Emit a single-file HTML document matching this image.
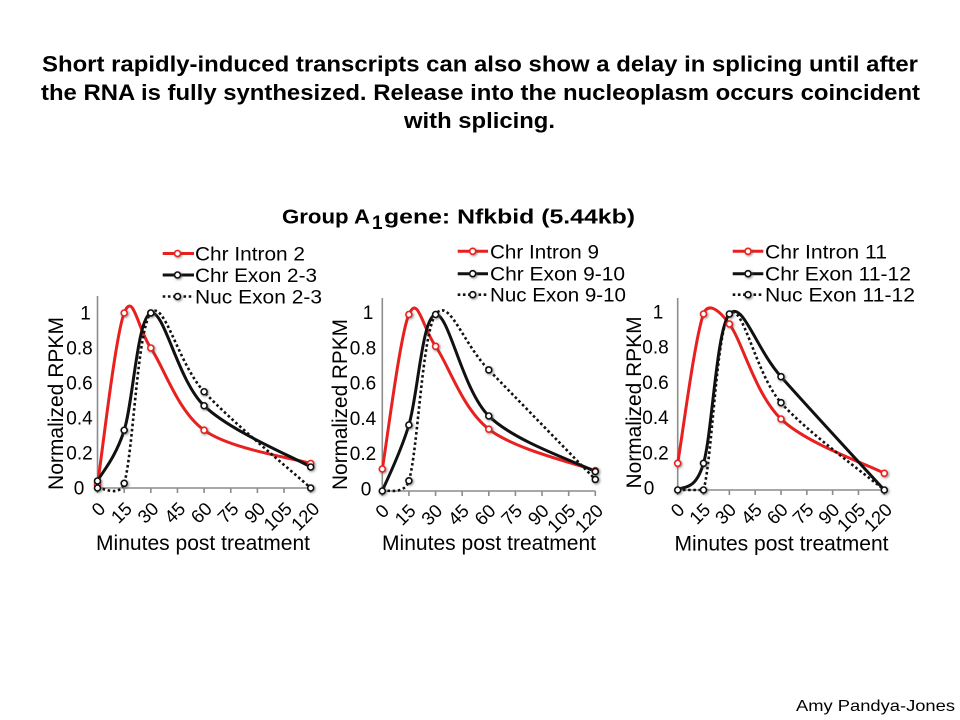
<!DOCTYPE html>
<html>
<head>
<meta charset="utf-8">
<style>
html,body{margin:0;padding:0;background:#fff;}
svg{display:block;}
text{font-family:"Liberation Sans",Arial,sans-serif;fill:#000;}
.b{font-weight:bold;}
.ax{stroke:#8c8c8c;stroke-width:1.6;fill:none;}
.red{stroke:#e8201f;stroke-width:3;fill:none;stroke-linejoin:round;}
.blk{stroke:#111;stroke-width:3;fill:none;stroke-linejoin:round;}
.dot{stroke:#111;stroke-width:2.6;fill:none;stroke-dasharray:2.6 2.6;}
.mr{fill:#fff;stroke:#e8201f;stroke-width:1.6;}
.mk{fill:#fff;stroke:#111;stroke-width:1.6;}
.yt{font-size:19px;text-anchor:middle;}
.xt{font-size:18.5px;text-anchor:end;}
.lg{font-size:19px;}
.at{font-size:21px;}
</style>
</head>
<body>
<svg width="960" height="720" viewBox="0 0 960 720" xmlns="http://www.w3.org/2000/svg">
<defs>
<filter id="sh" x="-50%" y="-50%" width="200%" height="200%">
<feDropShadow dx="1" dy="1" stdDeviation="1.3" flood-color="#555" flood-opacity="0.7"/>
</filter>
</defs>
<rect width="960" height="720" fill="#fff"/>

<!-- Main title -->
<text class="b" x="42" y="71.5" font-size="22" textLength="876" lengthAdjust="spacingAndGlyphs">Short rapidly-induced transcripts can also show a delay in splicing until after</text>
<text class="b" x="41" y="100" font-size="22" textLength="879" lengthAdjust="spacingAndGlyphs">the RNA is fully synthesized. Release into the nucleoplasm occurs coincident</text>
<text class="b" x="404" y="128" font-size="22" textLength="151" lengthAdjust="spacingAndGlyphs">with splicing.</text>

<!-- Group title -->
<text class="b" x="282" y="223.3" font-size="20" textLength="88" lengthAdjust="spacingAndGlyphs">Group A</text>
<text class="b" x="372" y="229" font-size="19">1</text>
<text class="b" x="384" y="223.3" font-size="20" textLength="251" lengthAdjust="spacingAndGlyphs">gene: Nfkbid (5.44kb)</text>

<!-- ================= CHART 1 ================= -->
<g>
<line class="ax" x1="97.5" y1="296" x2="97.5" y2="488"/>
<line class="ax" x1="97.5" y1="488" x2="310.7" y2="488"/>
<path class="ax" d="M97.5,488v5M124.15,488v5M150.8,488v5M177.45,488v5M204.1,488v5M230.75,488v5M257.4,488v5M284.05,488v5M310.7,488v5"/>
<text class="yt" x="79" y="494.5">0</text>
<text class="yt" x="79.5" y="459.5">0.2</text>
<text class="yt" x="79.5" y="424.5">0.4</text>
<text class="yt" x="79.5" y="389.5">0.6</text>
<text class="yt" x="79.5" y="354.5">0.8</text>
<text class="yt" x="85.5" y="319.5">1</text>
<text class="xt" transform="translate(106.5,510) rotate(-45)">0</text>
<text class="xt" transform="translate(133.2,510) rotate(-45)">15</text>
<text class="xt" transform="translate(159.8,510) rotate(-45)">30</text>
<text class="xt" transform="translate(186.5,510) rotate(-45)">45</text>
<text class="xt" transform="translate(213.1,510) rotate(-45)">60</text>
<text class="xt" transform="translate(239.8,510) rotate(-45)">75</text>
<text class="xt" transform="translate(266.4,510) rotate(-45)">90</text>
<text class="xt" transform="translate(293.1,510) rotate(-45)">105</text>
<text class="xt" transform="translate(320.7,510) rotate(-45)">120</text>
<text class="at" x="96" y="550" textLength="214" lengthAdjust="spacingAndGlyphs">Minutes post treatment</text>
<text class="at" transform="translate(63,490) rotate(-90)" textLength="173" lengthAdjust="spacingAndGlyphs">Normalized RPKM</text>

<path class="red" d="M97.5,484.5 C101.95,455.92 115.32,335.75 124.2,313 C133.08,290.25 137.48,328.47 150.8,348 C164.12,367.53 177.45,410.95 204.1,430.2 C230.75,449.45 292.93,457.95 310.7,463.5"/>
<path class="blk" d="M97.5,481 C101.95,472.54 115.32,458.25 124.2,430.25 C133.08,402.25 137.48,317.08 150.8,313 C164.12,308.92 177.45,380.08 204.1,405.75 C230.75,431.42 292.93,456.79 310.7,467"/>
<path class="dot" d="M97.5,488 C101.95,487.22 119.76,497.88 124.2,483.3 C133.08,454.13 137.48,328.26 150.8,313 C164.12,297.74 177.45,362.58 204.1,391.75 C230.75,420.92 292.93,471.96 310.7,488"/>
<g filter="url(#sh)">
<circle class="mr" cx="97.5" cy="484.5" r="3"/><circle class="mr" cx="124.2" cy="313" r="3"/><circle class="mr" cx="150.8" cy="348" r="3"/><circle class="mr" cx="204.1" cy="430.2" r="3"/><circle class="mr" cx="310.7" cy="463.5" r="3"/>
<circle class="mk" cx="97.5" cy="481" r="3"/><circle class="mk" cx="124.2" cy="430.25" r="3"/><circle class="mk" cx="150.8" cy="313" r="3"/><circle class="mk" cx="204.1" cy="405.75" r="3"/><circle class="mk" cx="310.7" cy="467" r="3"/>
<circle class="mk" cx="97.5" cy="488" r="3"/><circle class="mk" cx="124.2" cy="483.3" r="3"/><circle class="mk" cx="150.8" cy="313" r="3"/><circle class="mk" cx="204.1" cy="391.75" r="3"/><circle class="mk" cx="310.7" cy="488" r="3"/>
</g>
<!-- legend -->
<line class="red" x1="162.7" y1="253.5" x2="194" y2="253.5"/>
<line class="blk" x1="162.7" y1="275" x2="194" y2="275"/>
<line class="dot" x1="162.7" y1="296.5" x2="194" y2="296.5"/>
<g filter="url(#sh)">
<circle class="mr" cx="177.5" cy="253.5" r="3"/><circle class="mk" cx="177.5" cy="275" r="3"/><circle class="mk" cx="177.5" cy="296.5" r="3"/>
</g>
<text class="lg" x="195" y="260.5" textLength="110" lengthAdjust="spacingAndGlyphs">Chr Intron 2</text>
<text class="lg" x="195" y="282" textLength="122" lengthAdjust="spacingAndGlyphs">Chr Exon 2-3</text>
<text class="lg" x="195" y="303.5" textLength="127" lengthAdjust="spacingAndGlyphs">Nuc Exon 2-3</text>
</g>

<!-- ================= CHART 2 ================= -->
<g>
<line class="ax" x1="382.3" y1="298" x2="382.3" y2="491"/>
<line class="ax" x1="382.3" y1="491" x2="595.3" y2="491"/>
<path class="ax" d="M382.3,491v5M408.92,491v5M435.55,491v5M462.17,491v5M488.8,491v5M515.42,491v5M542.05,491v5M568.67,491v5M595.3,491v5"/>
<text class="yt" x="366" y="495.5">0</text>
<text class="yt" x="363" y="460.2">0.2</text>
<text class="yt" x="363" y="424.9">0.4</text>
<text class="yt" x="363" y="389.6">0.6</text>
<text class="yt" x="363" y="354.3">0.8</text>
<text class="yt" x="368" y="319">1</text>
<text class="xt" transform="translate(390.3,512) rotate(-45)">0</text>
<text class="xt" transform="translate(416.9,512) rotate(-45)">15</text>
<text class="xt" transform="translate(443.5,512) rotate(-45)">30</text>
<text class="xt" transform="translate(470.2,512) rotate(-45)">45</text>
<text class="xt" transform="translate(496.8,512) rotate(-45)">60</text>
<text class="xt" transform="translate(523.4,512) rotate(-45)">75</text>
<text class="xt" transform="translate(550,512) rotate(-45)">90</text>
<text class="xt" transform="translate(576.7,512) rotate(-45)">105</text>
<text class="xt" transform="translate(604.3,512) rotate(-45)">120</text>
<text class="at" x="382" y="550" textLength="214" lengthAdjust="spacingAndGlyphs">Minutes post treatment</text>
<text class="at" transform="translate(347,490) rotate(-90)" textLength="171" lengthAdjust="spacingAndGlyphs">Normalized RPKM</text>

<path class="red" d="M382.3,469 C386.73,443.25 400.02,334.95 408.9,314.5 C417.78,294.05 422.28,327.18 435.6,346.3 C448.92,365.42 462.18,408.47 488.8,429.2 C515.42,449.93 577.55,463.78 595.3,470.7"/>
<path class="blk" d="M382.3,491 C386.73,480 400.02,454.42 408.9,425 C417.78,395.58 422.28,316 435.6,314.5 C448.92,313 462.18,389.82 488.8,416 C515.42,442.18 577.55,462.33 595.3,471.6"/>
<path class="dot" d="M382.3,491 C386.73,489.3 404.46,495.51 408.9,480.8 C417.78,451.38 422.28,332.98 435.6,314.5 C448.92,296.02 462.18,342.42 488.8,369.9 C515.42,397.38 577.55,461.15 595.3,479.4"/>
<g filter="url(#sh)">
<circle class="mr" cx="382.3" cy="469" r="3"/><circle class="mr" cx="408.9" cy="314.5" r="3"/><circle class="mr" cx="435.6" cy="346.3" r="3"/><circle class="mr" cx="488.8" cy="429.2" r="3"/><circle class="mr" cx="595.3" cy="470.7" r="3"/>
<circle class="mk" cx="382.3" cy="491" r="3"/><circle class="mk" cx="408.9" cy="425" r="3"/><circle class="mk" cx="435.6" cy="314.5" r="3"/><circle class="mk" cx="488.8" cy="416" r="3"/><circle class="mk" cx="595.3" cy="471.6" r="3"/>
<circle class="mk" cx="408.9" cy="480.8" r="3"/><circle class="mk" cx="488.8" cy="369.9" r="3"/><circle class="mk" cx="595.3" cy="479.4" r="3"/>
</g>
<!-- legend -->
<line class="red" x1="457.7" y1="251.3" x2="488" y2="251.3"/>
<line class="blk" x1="457.7" y1="273.7" x2="488" y2="273.7"/>
<line class="dot" x1="457.7" y1="294.7" x2="488" y2="294.7"/>
<g filter="url(#sh)">
<circle class="mr" cx="472.7" cy="251.3" r="3"/><circle class="mk" cx="472.7" cy="273.7" r="3"/><circle class="mk" cx="472.7" cy="294.7" r="3"/>
</g>
<text class="lg" x="490" y="258.3" textLength="109" lengthAdjust="spacingAndGlyphs">Chr Intron 9</text>
<text class="lg" x="490" y="280.7" textLength="135" lengthAdjust="spacingAndGlyphs">Chr Exon 9-10</text>
<text class="lg" x="490" y="301.7" textLength="136" lengthAdjust="spacingAndGlyphs">Nuc Exon 9-10</text>
</g>

<!-- ================= CHART 3 ================= -->
<g>
<line class="ax" x1="677.7" y1="298" x2="677.7" y2="490"/>
<line class="ax" x1="677.7" y1="490" x2="884.3" y2="490"/>
<path class="ax" d="M677.7,490v5M703.52,490v5M729.35,490v5M755.17,490v5M781,490v5M806.82,490v5M832.65,490v5M858.47,490v5M884.3,490v5"/>
<text class="yt" x="649" y="494.5">0</text>
<text class="yt" x="655.5" y="459.3">0.2</text>
<text class="yt" x="655.5" y="424.1">0.4</text>
<text class="yt" x="655.5" y="388.9">0.6</text>
<text class="yt" x="655.5" y="353.7">0.8</text>
<text class="yt" x="658" y="318.5">1</text>
<text class="xt" transform="translate(685.7,511) rotate(-45)">0</text>
<text class="xt" transform="translate(711.5,511) rotate(-45)">15</text>
<text class="xt" transform="translate(737.3,511) rotate(-45)">30</text>
<text class="xt" transform="translate(763.2,511) rotate(-45)">45</text>
<text class="xt" transform="translate(789,511) rotate(-45)">60</text>
<text class="xt" transform="translate(814.8,511) rotate(-45)">75</text>
<text class="xt" transform="translate(840.6,511) rotate(-45)">90</text>
<text class="xt" transform="translate(866.5,511) rotate(-45)">105</text>
<text class="xt" transform="translate(893.3,511) rotate(-45)">120</text>
<text class="at" x="674.5" y="550.7" textLength="214" lengthAdjust="spacingAndGlyphs">Minutes post treatment</text>
<text class="at" transform="translate(641,488.5) rotate(-90)" textLength="172" lengthAdjust="spacingAndGlyphs">Normalized RPKM</text>

<path class="red" d="M677.7,463.3 C682,438.42 694.88,337.22 703.5,314 C707.4,303.55 716.48,306.5 729.4,324 C742.32,341.5 755.18,394.12 781,419 C806.82,443.88 867.08,464.25 884.3,473.3"/>
<path class="blk" d="M677.7,490 C682,485.55 694.88,492.63 703.5,463.3 C712.12,433.97 716.48,328.43 729.4,314 C742.32,299.57 755.18,347.37 781,376.7 C806.82,406.03 867.08,471.12 884.3,490"/>
<path class="dot" d="M677.7,490 L703.5,490 C712.12,460.67 716.48,328.55 729.4,314 C742.32,299.45 755.18,373.37 781,402.7 C806.82,432.03 867.08,475.45 884.3,490"/>
<g filter="url(#sh)">
<circle class="mr" cx="677.7" cy="463.3" r="3"/><circle class="mr" cx="703.5" cy="314" r="3"/><circle class="mr" cx="729.4" cy="324" r="3"/><circle class="mr" cx="781" cy="419" r="3"/><circle class="mr" cx="884.3" cy="473.3" r="3"/>
<circle class="mk" cx="677.7" cy="490" r="3"/><circle class="mk" cx="703.5" cy="463.3" r="3"/><circle class="mk" cx="729.4" cy="314" r="3"/><circle class="mk" cx="781" cy="376.7" r="3"/><circle class="mk" cx="884.3" cy="490" r="3"/>
<circle class="mk" cx="703.5" cy="490" r="3"/><circle class="mk" cx="781" cy="402.7" r="3"/>
</g>
<!-- legend -->
<line class="red" x1="732.7" y1="251.3" x2="763.3" y2="251.3"/>
<line class="blk" x1="732.7" y1="273.7" x2="763.3" y2="273.7"/>
<line class="dot" x1="732.7" y1="294.7" x2="763.3" y2="294.7"/>
<g filter="url(#sh)">
<circle class="mr" cx="748" cy="251.3" r="3"/><circle class="mk" cx="748" cy="273.7" r="3"/><circle class="mk" cx="748" cy="294.7" r="3"/>
</g>
<text class="lg" x="765" y="258.3" textLength="122" lengthAdjust="spacingAndGlyphs">Chr Intron 11</text>
<text class="lg" x="765" y="280.7" textLength="146" lengthAdjust="spacingAndGlyphs">Chr Exon 11-12</text>
<text class="lg" x="765" y="301.7" textLength="150" lengthAdjust="spacingAndGlyphs">Nuc Exon 11-12</text>
</g>

<!-- footer -->
<text x="796" y="711" font-size="16" textLength="159" lengthAdjust="spacingAndGlyphs">Amy Pandya-Jones</text>
</svg>
</body>
</html>
